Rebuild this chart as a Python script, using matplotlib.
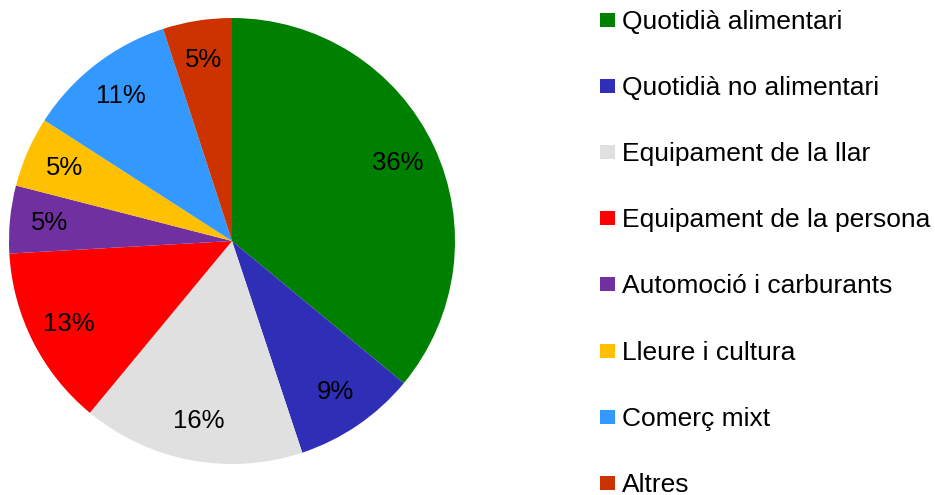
import matplotlib.pyplot as plt
from matplotlib.patches import Rectangle

categories = ['Quotidià alimentari', 'Quotidià no alimentari', 'Equipament de la llar',
              'Equipament de la persona', 'Automoció i carburants', 'Lleure i cultura',
              'Comerç mixt', 'Altres']
shares = [36.0, 8.9, 16.1, 13.1, 4.9, 5.1, 10.9, 5.0]
colors = ['#008000', '#2e2eb6', '#e0e0e0', '#ff0000', '#7030a0', '#ffc000', '#3399ff', '#cc3300']

plt.rcParams['font.family'] = ['Liberation Sans', 'DejaVu Sans']

W, H = 935, 495
fig = plt.figure(figsize=(W / 100, H / 100), dpi=100)

## pie, centre (232,241) px, radius 223 px
cx, cy, r = 232, 241, 223
ax = fig.add_axes([(cx - r) / W, (H - cy - r) / H, 2 * r / W, 2 * r / H])
wedges, texts, autotexts = ax.pie(shares, colors=colors, startangle=90, counterclock=False,
                                  autopct='%1.0f%%', pctdistance=0.82,
                                  wedgeprops={'linewidth': 0},
                                  textprops={'fontsize': 18.5, 'color': 'black'})
ax.set_xlim(-1, 1)
ax.set_ylim(-1, 1)
ax.set_aspect('equal')

## legend, drawn by hand
y0 = 20
dy = 66.1
for i, (lab, col) in enumerate(zip(categories, colors)):
    yc = y0 + i * dy
    fig.patches.append(Rectangle((600 / W, (H - yc - 7) / H), 15 / W, 14 / H,
                                 transform=fig.transFigure, facecolor=col, edgecolor='none'))
    fig.text(622 / W, (H - yc - 2) / H, lab, fontsize=19, color='black',
             ha='left', va='center')

plt.savefig('out.png', dpi=100)
